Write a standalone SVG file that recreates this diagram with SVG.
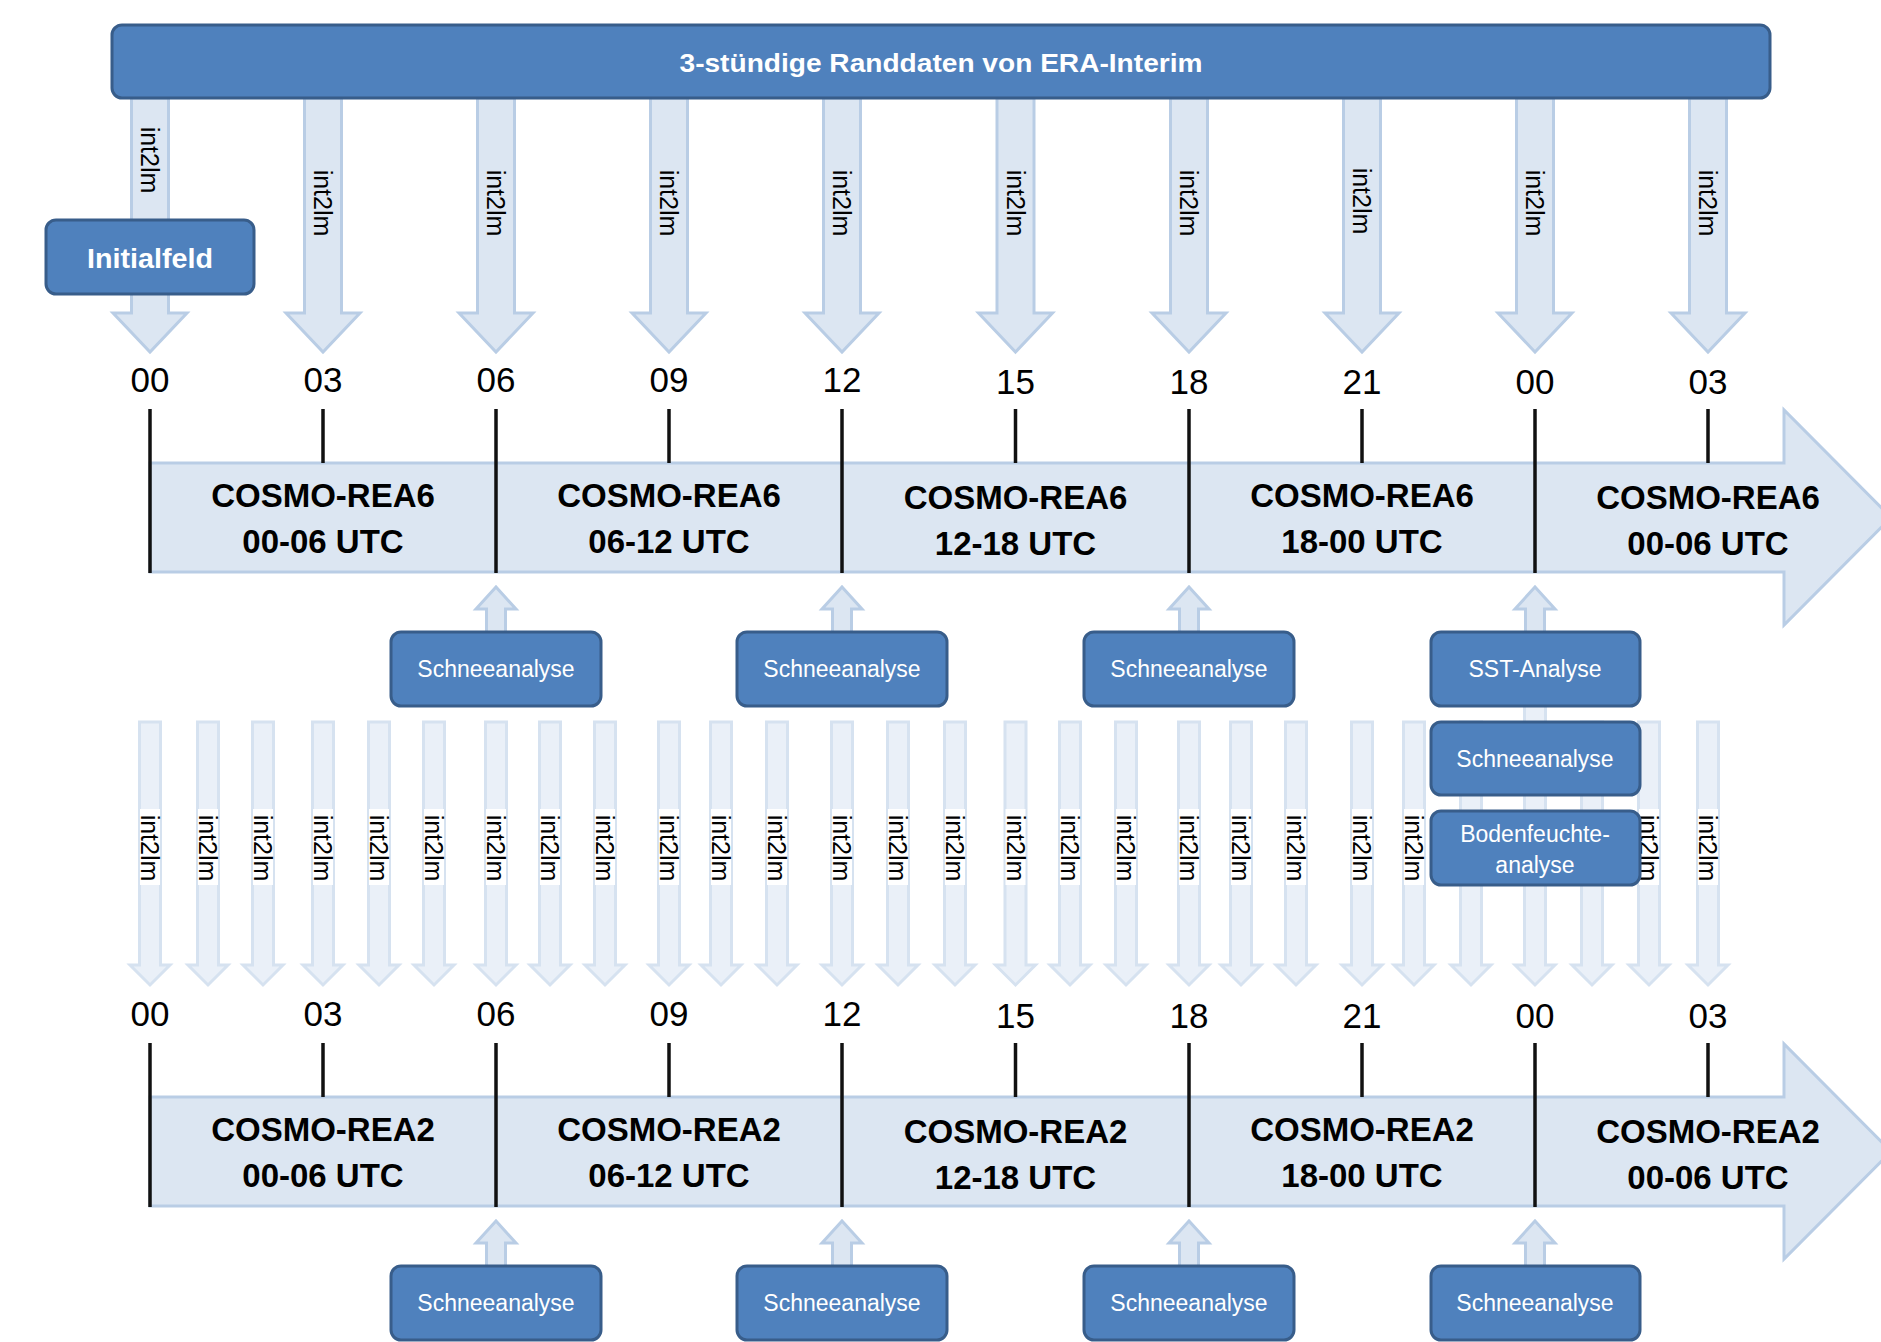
<svg xmlns="http://www.w3.org/2000/svg" width="1881" height="1342" viewBox="0 0 1881 1342">
<style>
  .box{fill:#4f81bd;stroke:#385d8a;stroke-width:3}
  .wt{fill:#ffffff;font-family:"Liberation Sans",Arial,sans-serif;text-anchor:middle}
  .arr{fill:#dce6f2;stroke:#b9cde5;stroke-width:3}
  .arr2{fill:#eaf0f8;stroke:#d6e2f0;stroke-width:3}
  .band{fill:#dce6f2;stroke:#b9cde5;stroke-width:3}
  .tick{stroke:#111111;stroke-width:3.5}
  .bk{fill:#000000;font-family:"Liberation Sans",Arial,sans-serif;text-anchor:middle}
  .i2{font-size:25px}
  .time{font-size:35px}
  .seg{font-size:33px;font-weight:bold}
  .bt{font-size:23px}
  .lbg{fill:#ffffff}
</style>
<defs>
  <path id="dnTop" d="M-18.5,98 H18.5 V313 H37 L0,352 L-37,313 H-18.5 Z"/>
  <path id="dnLow" d="M-10.5,722 H10.5 V965 H20 L0,985 L-20,965 H-10.5 Z"/>
  <path id="up" d="M-9.5,633 V609 H-20 L0,587 L20,609 H9.5 V633 Z"/>
  <path id="bigArrow" d="M150,463 H1784 V410 L1891,517.5 L1784,625 V572 H150 Z"/>
</defs>

<!-- connectors: int2lm arrows from ERA-Interim to COSMO-REA6 -->
<g id="connectors">
  <g id="top-arrows" class="arr">
    <use href="#dnTop" x="150"/>
    <use href="#dnTop" x="323"/>
    <use href="#dnTop" x="496"/>
    <use href="#dnTop" x="669"/>
    <use href="#dnTop" x="842"/>
    <use href="#dnTop" x="1015.5"/>
    <use href="#dnTop" x="1189"/>
    <use href="#dnTop" x="1362"/>
    <use href="#dnTop" x="1535"/>
    <use href="#dnTop" x="1708"/>
  </g>
  <g id="top-arrow-labels" class="bk i2">
    <text transform="translate(150,160) rotate(90)" y="9">int2lm</text>
    <text transform="translate(323,203) rotate(90)" y="9">int2lm</text>
    <text transform="translate(496,203) rotate(90)" y="9">int2lm</text>
    <text transform="translate(669,203) rotate(90)" y="9">int2lm</text>
    <text transform="translate(842,203) rotate(90)" y="9">int2lm</text>
    <text transform="translate(1015.5,203) rotate(90)" y="9">int2lm</text>
    <text transform="translate(1189,203) rotate(90)" y="9">int2lm</text>
    <text transform="translate(1362,201) rotate(90)" y="9">int2lm</text>
    <text transform="translate(1535,203) rotate(90)" y="9">int2lm</text>
    <text transform="translate(1708,203) rotate(90)" y="9">int2lm</text>
  </g>

  <!-- hourly int2lm arrows to COSMO-REA2 -->
  <g id="low-arrows" class="arr2">
    <use href="#dnLow" x="150"/><use href="#dnLow" x="208"/><use href="#dnLow" x="263"/>
    <use href="#dnLow" x="323"/><use href="#dnLow" x="379"/><use href="#dnLow" x="434"/>
    <use href="#dnLow" x="496"/><use href="#dnLow" x="550"/><use href="#dnLow" x="605"/>
    <use href="#dnLow" x="669"/><use href="#dnLow" x="721"/><use href="#dnLow" x="777"/>
    <use href="#dnLow" x="842"/><use href="#dnLow" x="898"/><use href="#dnLow" x="955"/>
    <use href="#dnLow" x="1015.5"/><use href="#dnLow" x="1070"/><use href="#dnLow" x="1126"/>
    <use href="#dnLow" x="1189"/><use href="#dnLow" x="1241"/><use href="#dnLow" x="1296"/>
    <use href="#dnLow" x="1362"/><use href="#dnLow" x="1414"/><use href="#dnLow" x="1471"/>
    <use href="#dnLow" x="1535"/><use href="#dnLow" x="1592"/><use href="#dnLow" x="1649"/>
    <use href="#dnLow" x="1708"/>
    <rect x="1524.5" y="704" width="21" height="20"/>
  </g>
  <g id="low-arrow-label-bg" class="lbg">
    <rect x="140" y="809" width="20" height="76"/><rect x="198" y="809" width="20" height="76"/><rect x="253" y="809" width="20" height="76"/>
    <rect x="313" y="809" width="20" height="76"/><rect x="369" y="809" width="20" height="76"/><rect x="424" y="809" width="20" height="76"/>
    <rect x="486" y="809" width="20" height="76"/><rect x="540" y="809" width="20" height="76"/><rect x="595" y="809" width="20" height="76"/>
    <rect x="659" y="809" width="20" height="76"/><rect x="711" y="809" width="20" height="76"/><rect x="767" y="809" width="20" height="76"/>
    <rect x="832" y="809" width="20" height="76"/><rect x="888" y="809" width="20" height="76"/><rect x="945" y="809" width="20" height="76"/>
    <rect x="1005.5" y="809" width="20" height="76"/><rect x="1060" y="809" width="20" height="76"/><rect x="1116" y="809" width="20" height="76"/>
    <rect x="1179" y="809" width="20" height="76"/><rect x="1231" y="809" width="20" height="76"/><rect x="1286" y="809" width="20" height="76"/>
    <rect x="1352" y="809" width="20" height="76"/><rect x="1404" y="809" width="20" height="76"/>
    <rect x="1639" y="809" width="20" height="76"/><rect x="1698" y="809" width="20" height="76"/>
  </g>
  <g id="low-arrow-labels" class="bk i2">
    <text transform="translate(150,848) rotate(90)" y="9">int2lm</text>
    <text transform="translate(208,848) rotate(90)" y="9">int2lm</text>
    <text transform="translate(263,848) rotate(90)" y="9">int2lm</text>
    <text transform="translate(323,848) rotate(90)" y="9">int2lm</text>
    <text transform="translate(379,848) rotate(90)" y="9">int2lm</text>
    <text transform="translate(434,848) rotate(90)" y="9">int2lm</text>
    <text transform="translate(496,848) rotate(90)" y="9">int2lm</text>
    <text transform="translate(550,848) rotate(90)" y="9">int2lm</text>
    <text transform="translate(605,848) rotate(90)" y="9">int2lm</text>
    <text transform="translate(669,848) rotate(90)" y="9">int2lm</text>
    <text transform="translate(721,848) rotate(90)" y="9">int2lm</text>
    <text transform="translate(777,848) rotate(90)" y="9">int2lm</text>
    <text transform="translate(842,848) rotate(90)" y="9">int2lm</text>
    <text transform="translate(898,848) rotate(90)" y="9">int2lm</text>
    <text transform="translate(955,848) rotate(90)" y="9">int2lm</text>
    <text transform="translate(1015.5,848) rotate(90)" y="9">int2lm</text>
    <text transform="translate(1070,848) rotate(90)" y="9">int2lm</text>
    <text transform="translate(1126,848) rotate(90)" y="9">int2lm</text>
    <text transform="translate(1189,848) rotate(90)" y="9">int2lm</text>
    <text transform="translate(1241,848) rotate(90)" y="9">int2lm</text>
    <text transform="translate(1296,848) rotate(90)" y="9">int2lm</text>
    <text transform="translate(1362,848) rotate(90)" y="9">int2lm</text>
    <text transform="translate(1414,848) rotate(90)" y="9">int2lm</text>
    <text transform="translate(1649,848) rotate(90)" y="9">int2lm</text>
    <text transform="translate(1708,848) rotate(90)" y="9">int2lm</text>
  </g>

  <!-- analysis up-arrows -->
  <g id="up-arrows" class="arr">
    <use href="#up" x="496"/>
    <use href="#up" x="842"/>
    <use href="#up" x="1189"/>
    <use href="#up" x="1535"/>
    <use href="#up" x="496" y="634"/>
    <use href="#up" x="842" y="634"/>
    <use href="#up" x="1189" y="634"/>
    <use href="#up" x="1535" y="634"/>
  </g>
</g>

<!-- ERA-Interim banner -->
<g id="era-interim">
  <rect class="box" x="112" y="25" width="1658" height="73" rx="10"/>
  <text class="wt" x="941" y="72" font-size="26" font-weight="bold" textLength="523" lengthAdjust="spacingAndGlyphs">3-stündige Randdaten von ERA-Interim</text>
</g>

<!-- Initialfeld -->
<g id="initialfeld">
  <rect class="box" x="46" y="220" width="208" height="74" rx="10"/>
  <text class="wt" x="150" y="268" font-size="28" font-weight="bold" textLength="126" lengthAdjust="spacingAndGlyphs">Initialfeld</text>
</g>

<!-- COSMO-REA6 timeline -->
<g id="timeline-rea6">
  <use href="#bigArrow" class="band"/>
  <g class="tick">
    <line x1="150" y1="409" x2="150" y2="573"/>
    <line x1="323" y1="409" x2="323" y2="463"/>
    <line x1="496" y1="409" x2="496" y2="573"/>
    <line x1="669" y1="409" x2="669" y2="463"/>
    <line x1="842" y1="409" x2="842" y2="573"/>
    <line x1="1015.5" y1="409" x2="1015.5" y2="463"/>
    <line x1="1189" y1="409" x2="1189" y2="573"/>
    <line x1="1362" y1="409" x2="1362" y2="463"/>
    <line x1="1535" y1="409" x2="1535" y2="573"/>
    <line x1="1708" y1="409" x2="1708" y2="463"/>
  </g>
  <g class="bk time">
    <text x="150" y="392">00</text>
    <text x="323" y="392">03</text>
    <text x="496" y="392">06</text>
    <text x="669" y="392">09</text>
    <text x="842" y="392">12</text>
    <text x="1015.5" y="394">15</text>
    <text x="1189" y="394">18</text>
    <text x="1362" y="394">21</text>
    <text x="1535" y="394">00</text>
    <text x="1708" y="394">03</text>
  </g>
  <g class="bk seg">
    <text x="323" y="507">COSMO-REA6</text><text x="323" y="553">00-06 UTC</text>
    <text x="669" y="507">COSMO-REA6</text><text x="669" y="553">06-12 UTC</text>
    <text x="1015.5" y="509">COSMO-REA6</text><text x="1015.5" y="555">12-18 UTC</text>
    <text x="1362" y="507">COSMO-REA6</text><text x="1362" y="553">18-00 UTC</text>
    <text x="1708" y="509">COSMO-REA6</text><text x="1708" y="555">00-06 UTC</text>
  </g>
</g>

<!-- COSMO-REA2 timeline -->
<g id="timeline-rea2">
  <use href="#bigArrow" class="band" y="634"/>
  <g class="tick">
    <line x1="150" y1="1043" x2="150" y2="1207"/>
    <line x1="323" y1="1043" x2="323" y2="1097"/>
    <line x1="496" y1="1043" x2="496" y2="1207"/>
    <line x1="669" y1="1043" x2="669" y2="1097"/>
    <line x1="842" y1="1043" x2="842" y2="1207"/>
    <line x1="1015.5" y1="1043" x2="1015.5" y2="1097"/>
    <line x1="1189" y1="1043" x2="1189" y2="1207"/>
    <line x1="1362" y1="1043" x2="1362" y2="1097"/>
    <line x1="1535" y1="1043" x2="1535" y2="1207"/>
    <line x1="1708" y1="1043" x2="1708" y2="1097"/>
  </g>
  <g class="bk time">
    <text x="150" y="1026">00</text>
    <text x="323" y="1026">03</text>
    <text x="496" y="1026">06</text>
    <text x="669" y="1026">09</text>
    <text x="842" y="1026">12</text>
    <text x="1015.5" y="1028">15</text>
    <text x="1189" y="1028">18</text>
    <text x="1362" y="1028">21</text>
    <text x="1535" y="1028">00</text>
    <text x="1708" y="1028">03</text>
  </g>
  <g class="bk seg">
    <text x="323" y="1141">COSMO-REA2</text><text x="323" y="1187">00-06 UTC</text>
    <text x="669" y="1141">COSMO-REA2</text><text x="669" y="1187">06-12 UTC</text>
    <text x="1015.5" y="1143">COSMO-REA2</text><text x="1015.5" y="1189">12-18 UTC</text>
    <text x="1362" y="1141">COSMO-REA2</text><text x="1362" y="1187">18-00 UTC</text>
    <text x="1708" y="1143">COSMO-REA2</text><text x="1708" y="1189">00-06 UTC</text>
  </g>
</g>

<!-- analysis boxes, REA6 -->
<g id="schnee-rea6-06">
  <rect class="box" x="391" y="632" width="210" height="74" rx="10"/>
  <text class="wt bt" x="496" y="677">Schneeanalyse</text>
</g>
<g id="schnee-rea6-12">
  <rect class="box" x="737" y="632" width="210" height="74" rx="10"/>
  <text class="wt bt" x="842" y="677">Schneeanalyse</text>
</g>
<g id="schnee-rea6-18">
  <rect class="box" x="1084" y="632" width="210" height="74" rx="10"/>
  <text class="wt bt" x="1189" y="677">Schneeanalyse</text>
</g>
<g id="sst-analyse">
  <rect class="box" x="1431" y="632" width="209" height="74" rx="10"/>
  <text class="wt bt" x="1535" y="677">SST-Analyse</text>
</g>
<g id="schnee-rea6-00">
  <rect class="box" x="1431" y="722" width="209" height="73" rx="10"/>
  <text class="wt bt" x="1535" y="767">Schneeanalyse</text>
</g>
<g id="bodenfeuchteanalyse">
  <rect class="box" x="1431" y="811" width="209" height="74" rx="10"/>
  <text class="wt bt" x="1535" y="842">Bodenfeuchte-</text>
  <text class="wt bt" x="1535" y="873">analyse</text>
</g>

<!-- analysis boxes, REA2 -->
<g id="schnee-rea2-06">
  <rect class="box" x="391" y="1266" width="210" height="74" rx="10"/>
  <text class="wt bt" x="496" y="1311">Schneeanalyse</text>
</g>
<g id="schnee-rea2-12">
  <rect class="box" x="737" y="1266" width="210" height="74" rx="10"/>
  <text class="wt bt" x="842" y="1311">Schneeanalyse</text>
</g>
<g id="schnee-rea2-18">
  <rect class="box" x="1084" y="1266" width="210" height="74" rx="10"/>
  <text class="wt bt" x="1189" y="1311">Schneeanalyse</text>
</g>
<g id="schnee-rea2-00">
  <rect class="box" x="1431" y="1266" width="209" height="74" rx="10"/>
  <text class="wt bt" x="1535" y="1311">Schneeanalyse</text>
</g>
</svg>
